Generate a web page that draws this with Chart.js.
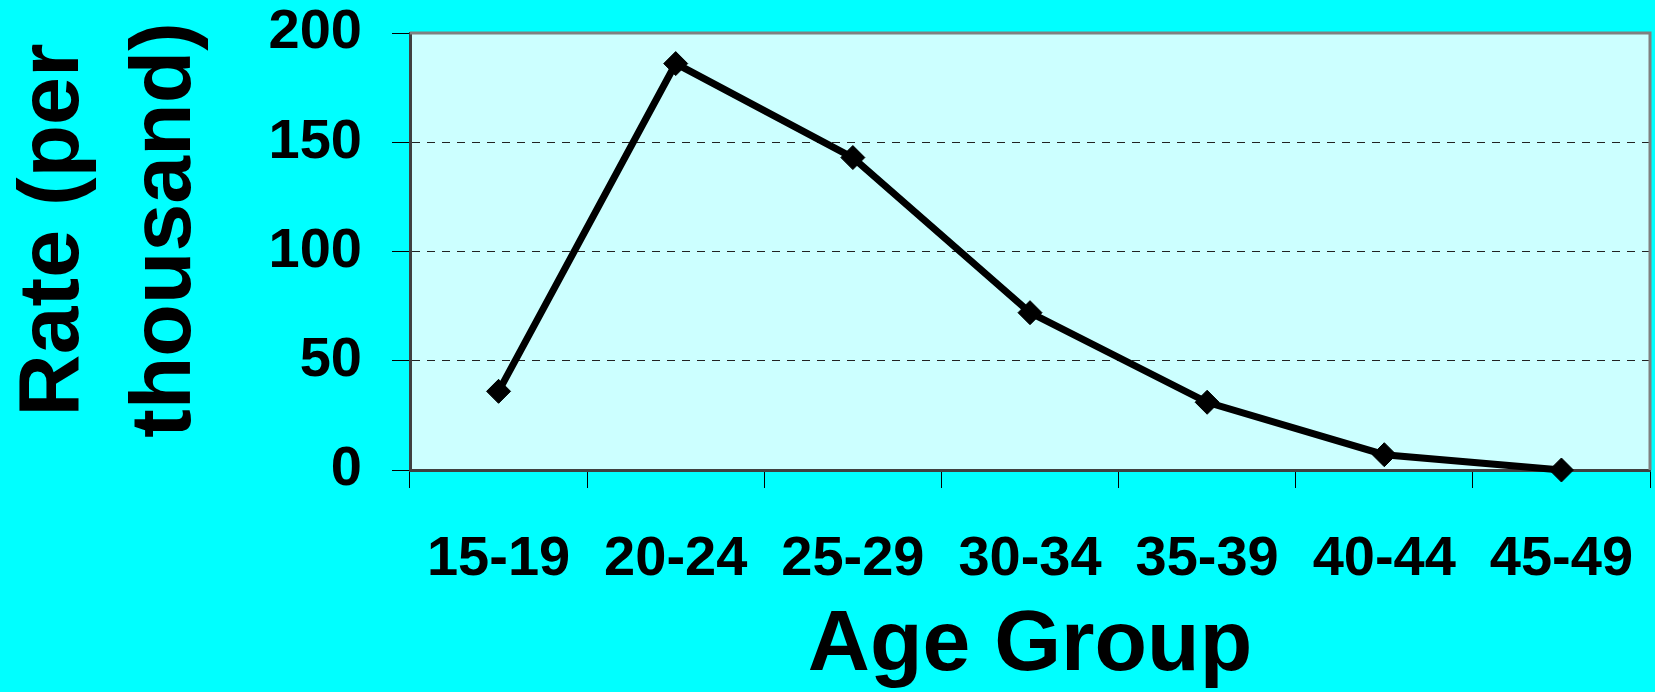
<!DOCTYPE html>
<html>
<head>
<meta charset="utf-8">
<script src="https://cdn.jsdelivr.net/npm/chart.js@4.4.1/dist/chart.umd.min.js"></script>
<style>
  html, body { margin: 0; padding: 0; background: #00FFFF; }
  canvas { display: block; }
</style>
</head>
<body>
<canvas id="c" width="1655" height="692"></canvas>
<script>
const ageGroups = ['15-19', '20-24', '25-29', '30-34', '35-39', '40-44', '45-49'];
const rates = [36, 186, 143, 72, 31, 7, 0];
const yTitleLines = ['Rate (per', 'thousand)'];
const xTitle = 'Age Group';

const FONT = "'Liberation Sans', Arial, sans-serif";

const plotDecor = {
  id: 'plotDecor',
  beforeDraw(chart) {
    const {ctx, chartArea: a} = chart;
    ctx.save();
    ctx.fillStyle = '#CCFFFF';
    ctx.fillRect(a.left, a.top, a.right - a.left, a.bottom - a.top);
    ctx.restore();
  },
  afterDatasetsDraw(chart) {
    const {ctx, chartArea: a} = chart;
    ctx.save();
    ctx.strokeStyle = '#808080';
    ctx.lineWidth = 3;
    ctx.beginPath();
    ctx.moveTo(a.left, a.top);
    ctx.lineTo(a.right, a.top);
    ctx.lineTo(a.right, a.bottom);
    ctx.stroke();
    ctx.restore();
  },
  afterDraw(chart) {
    const {ctx} = chart;
    ctx.save();
    ctx.fillStyle = '#000';
    ctx.font = 'bold 86px ' + FONT;
    ctx.textAlign = 'center';
    ctx.textBaseline = 'alphabetic';
    ctx.translate(78, 230);
    ctx.rotate(-Math.PI / 2);
    yTitleLines.forEach((t, i) => ctx.fillText(t, 0, i * 112));
    ctx.restore();
  }
};

new Chart(document.getElementById('c'), {
  type: 'line',
  data: {
    labels: ageGroups,
    datasets: [{
      data: rates,
      borderColor: '#000',
      borderWidth: 7,
      pointStyle: 'rectRot',
      pointRadius: 12,
      pointBackgroundColor: '#000',
      pointBorderColor: '#000',
      pointBorderWidth: 1,
      tension: 0,
      fill: false,
      clip: false
    }]
  },
  options: {
    responsive: false,
    animation: false,
    devicePixelRatio: 1,
    layout: { autoPadding: false, padding: { top: 33, right: 5, left: 0, bottom: 0 } },
    plugins: { legend: { display: false }, tooltip: { enabled: false } },
    scales: {
      x: {
        type: 'category',
        offset: true,
        grid: { offset: true, drawOnChartArea: false, drawTicks: true, tickLength: 18, color: '#000', lineWidth: 1 },
        border: { display: true, color: '#404040', width: 3 },
        ticks: { color: '#000', font: { family: FONT, size: 56, weight: 'bold' }, padding: 38, maxRotation: 0, autoSkip: false },
        title: { display: true, text: xTitle, color: '#000', font: { family: FONT, size: 86, weight: 'bold', lineHeight: 1 }, padding: { top: 0, bottom: 3 } },
        afterFit(s) { s.height = 222; s.paddingLeft = 0; s.paddingRight = 0; }
      },
      y: {
        min: 0,
        max: 200,
        ticks: { stepSize: 50, color: '#000', font: { family: FONT, size: 56, weight: 'bold' }, padding: 30 },
        grid: { color: '#222', lineWidth: 1, drawTicks: true, tickLength: 18, tickColor: '#000' },
        border: { display: true, color: '#404040', width: 3, dash: [8, 7] },
        afterFit(s) { s.width = 410; s.paddingTop = 0; s.paddingBottom = 0; }
      }
    }
  },
  plugins: [plotDecor]
});
</script>
</body>
</html>
